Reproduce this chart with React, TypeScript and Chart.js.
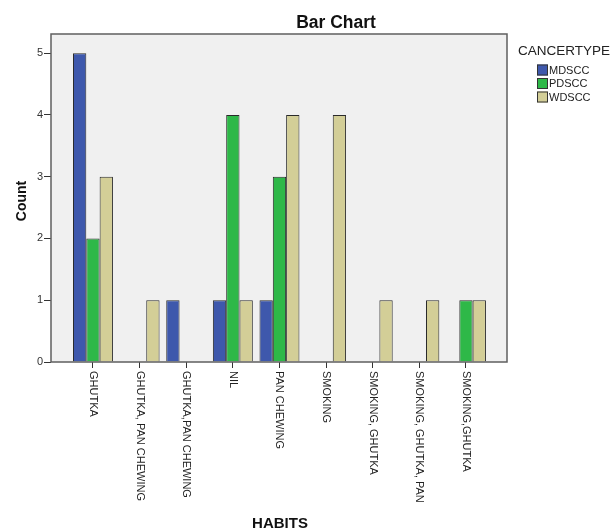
import React, { useEffect, useRef } from "react";
import { Chart, registerables } from "chart.js";

Chart.register(...registerables);

const HABITS = [
  "GHUTKA",
  "GHUTKA, PAN CHEWING",
  "GHUTKA,PAN CHEWING",
  "NIL",
  "PAN CHEWING",
  "SMOKING",
  "SMOKING, GHUTKA",
  "SMOKING, GHUTKA, PAN",
  "SMOKING,GHUTKA",
];
const CANCER_TYPES = ["MDSCC", "PDSCC", "WDSCC"];
const MDSCC_COUNTS = [5, 0, 1, 1, 1, 0, 0, 0, 0];
const PDSCC_COUNTS = [2, 0, 0, 4, 3, 0, 0, 0, 1];
const WDSCC_COUNTS = [3, 1, 0, 1, 4, 4, 1, 1, 1];
const Y_TICKS = [0, 1, 2, 3, 4, 5];
const COLORS = ["#3E58AC", "#2EB848", "#D3CE97"];

const TITLE = "Bar Chart";
const X_TITLE = "HABITS";
const Y_TITLE = "Count";
const LEGEND_TITLE = "CANCERTYPE";

const FONT = "Arial, 'Liberation Sans', sans-serif";

export default function App() {
  const ref = useRef<HTMLCanvasElement | null>(null);

  useEffect(() => {
    if (!ref.current) return;
    const series = [MDSCC_COUNTS, PDSCC_COUNTS, WDSCC_COUNTS];

    const decor = {
      id: "decor",
      beforeDraw(chart: any) {
        const { ctx, chartArea: a } = chart;
        ctx.save();
        ctx.fillStyle = "#F0F0F0";
        ctx.fillRect(a.left, a.top, a.right - a.left, a.bottom - a.top);
        ctx.restore();
      },
      afterDraw(chart: any) {
        const { ctx, chartArea: a } = chart;
        const xs = chart.scales.x;
        ctx.save();
        // frame
        ctx.strokeStyle = "#5f5f5f";
        ctx.lineWidth = 1.5;
        ctx.strokeRect(a.left, a.top, a.right - a.left, a.bottom - a.top);

        // title
        ctx.fillStyle = "#111";
        ctx.font = `bold 17.5px ${FONT}`;
        ctx.textAlign = "center";
        ctx.textBaseline = "alphabetic";
        ctx.fillText(TITLE, 336, 27.5);

        // x axis title
        ctx.font = `bold 15px ${FONT}`;
        ctx.fillText(X_TITLE, (a.left + a.right) / 2 + 1, 528);

        // y axis title
        ctx.save();
        ctx.translate(22, (a.top + a.bottom) / 2 + 3);
        ctx.rotate(-Math.PI / 2);
        ctx.font = `bold 14px ${FONT}`;
        ctx.textBaseline = "middle";
        ctx.fillText(Y_TITLE, 0, 0);
        ctx.restore();

        // x tick labels, rotated clockwise
        ctx.font = `11px ${FONT}`;
        ctx.fillStyle = "#222";
        HABITS.forEach((lab, i) => {
          const x = xs.getPixelForValue(i);
          ctx.save();
          ctx.translate(x, a.bottom + 9);
          ctx.rotate(Math.PI / 2);
          ctx.textAlign = "left";
          ctx.textBaseline = "middle";
          ctx.fillText(lab, 0, 0);
          ctx.restore();
        });

        // legend
        ctx.fillStyle = "#222";
        ctx.textAlign = "left";
        ctx.textBaseline = "alphabetic";
        ctx.font = `13.5px ${FONT}`;
        ctx.fillText(LEGEND_TITLE, 518, 54.5);
        ctx.font = `11px ${FONT}`;
        chart.data.datasets.forEach((ds: any, k: number) => {
          const cy = 70 + k * 13.5;
          ctx.fillStyle = ds.backgroundColor;
          ctx.fillRect(537, cy - 5.5, 11, 11);
          ctx.strokeStyle = "#333";
          ctx.lineWidth = 1;
          ctx.strokeRect(537.5, cy - 5, 10, 10);
          ctx.fillStyle = "#222";
          ctx.textBaseline = "middle";
          ctx.fillText(ds.label, 549, cy + 0.5);
        });
        ctx.restore();
      },
    };

    const chart = new Chart(ref.current, {
      type: "bar",
      data: {
        datasets: series.map((s, k) => ({
          label: CANCER_TYPES[k],
          data: s.map((v, i) => ({ x: i, y: v === 0 ? null : v })),
          backgroundColor: COLORS[k],
          borderColor: "#2a2a2a",
          borderWidth: 1,
          categoryPercentage: 0.857,
          barPercentage: 1,
        })),
      },
      options: {
        responsive: false,
        animation: false,
        devicePixelRatio: 1,
        layout: { padding: { top: 34, right: 108, left: 0, bottom: 0 } },
        plugins: {
          legend: { display: false },
          title: { display: false },
          tooltip: { enabled: false },
        },
        scales: {
          x: {
            type: "linear",
            min: -0.9,
            max: 8.88,
            offset: false,
            afterBuildTicks: (s: any) => {
              s.ticks = HABITS.map((_, i) => ({ value: i }));
            },
            afterFit: (s: any) => {
              s.height = 167;
            },
            ticks: { display: false },
            grid: {
              offset: false,
              drawOnChartArea: false,
              drawTicks: true,
              tickLength: 6,
              color: "#333",
              lineWidth: 1,
            },
            border: { display: false },
          },
          y: {
            min: 0,
            max: 5.31,
            afterBuildTicks: (s: any) => {
              s.ticks = Y_TICKS.map((v) => ({ value: v }));
            },
            afterFit: (s: any) => {
              s.width = 51;
            },
            ticks: {
              font: { family: FONT, size: 11 },
              color: "#333",
              padding: 1,
            },
            grid: {
              offset: false,
              drawOnChartArea: false,
              drawTicks: true,
              tickLength: 7,
              color: "#333",
              lineWidth: 1,
            },
            border: { display: false },
          },
        },
      } as any,
      plugins: [decor],
    });

    return () => chart.destroy();
  }, []);

  return (
    <div style={{ position: "absolute", left: 0, top: 0, width: 615, height: 529, background: "#fff" }}>
      <canvas ref={ref} width={615} height={529} style={{ width: 615, height: 529, display: "block" }} />
    </div>
  );
}
